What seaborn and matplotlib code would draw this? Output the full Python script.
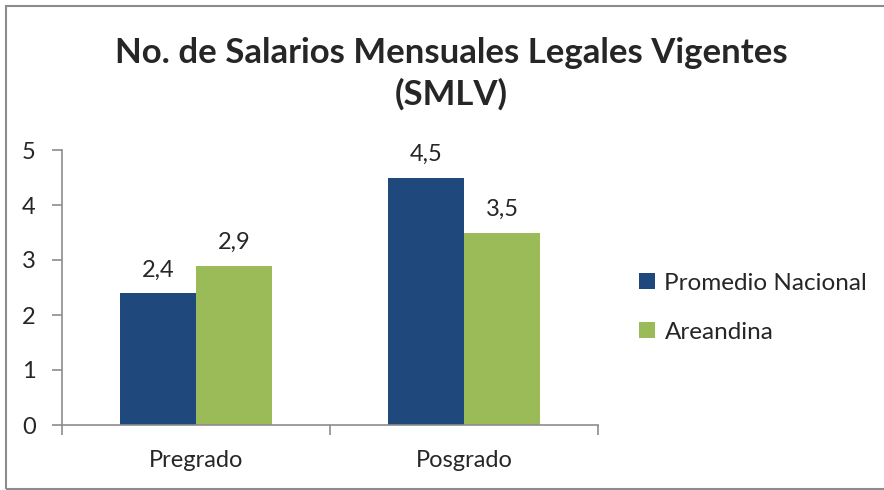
import pandas as pd
import matplotlib.pyplot as plt
import seaborn as sns
from matplotlib.patches import Rectangle

categorias = ["Pregrado", "Posgrado"]
series = ["Promedio Nacional", "Areandina"]
promedio_nacional = [2.4, 4.5]
areandina = [2.9, 3.5]
colores = ["#1F497D", "#9BBB59"]

df = pd.DataFrame({
    "nivel": categorias * 2,
    "serie": [series[0]] * 2 + [series[1]] * 2,
    "valor": promedio_nacional + areandina,
})

sns.set_style("white")
plt.rcParams["font.family"] = ["Lato", "DejaVu Sans"]

fig = plt.figure(figsize=(8.84, 4.9), dpi=100)
ax = fig.add_axes([62 / 884, 1 - 425 / 490, (598 - 62) / 884, 275 / 490])

sns.barplot(data=df, x="nivel", y="valor", hue="serie", palette=colores,
            width=0.57, gap=0, ax=ax, saturation=1, linewidth=0)

for cont in ax.containers:
    ax.bar_label(cont, labels=[f"{v:.1f}".replace(".", ",") for v in cont.datavalues],
                 padding=9, fontsize=17)

ax.set_ylim(0, 5)
ax.set_xlim(-0.5, 1.5)
ax.set_yticks([0, 1, 2, 3, 4, 5])
ax.set_xlabel("")
ax.set_ylabel("")
for s in ["top", "right"]:
    ax.spines[s].set_visible(False)
for s in ["left", "bottom"]:
    ax.spines[s].set_color("#8c8c8c")
    ax.spines[s].set_linewidth(1.2)
ax.tick_params(axis="y", which="major", length=7, width=1.2, color="#8c8c8c",
               labelsize=17, pad=12, left=True)
ax.tick_params(axis="x", which="major", length=0, labelsize=17, pad=18)
ax.set_xticks([-0.5, 0.5, 1.5], minor=True)
ax.tick_params(axis="x", which="minor", length=7, width=1.2, color="#8c8c8c", bottom=True)

ax.legend(loc="center left", bbox_to_anchor=(0.698, 0.372), bbox_transform=fig.transFigure,
          frameon=False, fontsize=17.5, handlelength=0.65, handleheight=0.65,
          handletextpad=0.4, labelspacing=1.15)

fig.text(0.51, 0.85, "No. de Salarios Mensuales Legales Vigentes\n(SMLV)",
         ha="center", va="center", fontsize=25, fontweight="bold", linespacing=1.35)

fig.patches.append(Rectangle((6 / 884, 1 - 489 / 490), 1.0, 483 / 490, transform=fig.transFigure,
                             fill=False, edgecolor="#8c8c8c", linewidth=1.5))

fig.savefig("out.png", dpi=100)
